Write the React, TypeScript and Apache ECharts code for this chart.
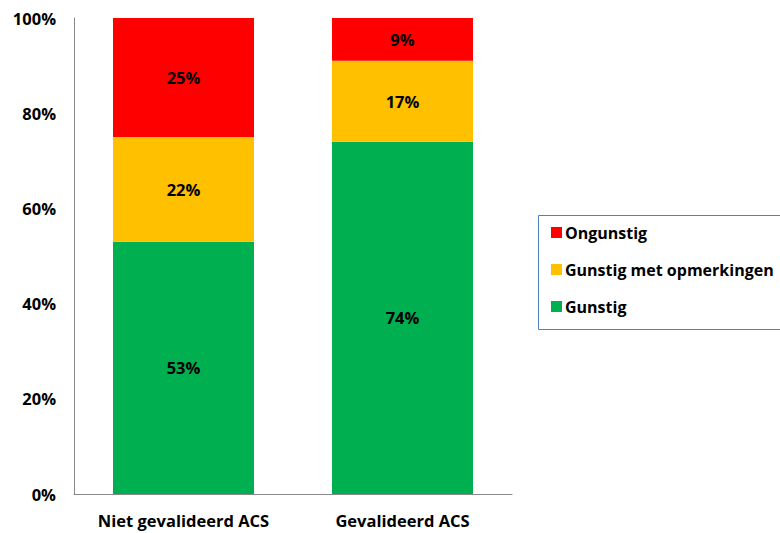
import React, { useEffect, useRef } from "react";
import * as echarts from "echarts";

const categories = ["Niet gevalideerd ACS", "Gevalideerd ACS"];
const gunstig = [53, 74];
const gunstigMetOpmerkingen = [22, 17];
const ongunstig = [25, 9];
const yTicks = ["0%", "20%", "40%", "60%", "80%", "100%"];

const FONT = "'Open Sans', sans-serif";

export default function App() {
  const ref = useRef<HTMLDivElement>(null);
  useEffect(() => {
    if (!ref.current) return;
    const chart = echarts.init(ref.current, null, { renderer: "svg" });
    const label = {
      show: true,
      position: "inside",
      formatter: "{c}%",
      color: "#000",
      fontWeight: "bold",
      fontSize: 16.5,
      fontFamily: FONT,
    };
    chart.setOption({
      animation: false,
      backgroundColor: "#fff",
      textStyle: { fontFamily: FONT },
      grid: { left: 74, top: 18, width: 438, height: 476, containLabel: false },
      xAxis: {
        type: "category",
        data: categories,
        axisLine: { lineStyle: { color: "#888", width: 1 } },
        axisTick: { show: false },
        axisLabel: { interval: 0, hideOverlap: false, color: "#000", fontWeight: "bold", fontSize: 16.5, margin: 18, fontFamily: FONT },
      },
      yAxis: {
        type: "value",
        min: 0,
        max: 100,
        interval: 20,
        axisLine: { show: true, lineStyle: { color: "#888", width: 1 } },
        axisTick: { show: false },
        splitLine: { show: false },
        axisLabel: {
          color: "#000",
          fontWeight: "bold",
          fontSize: 16.5,
          margin: 18,
          fontFamily: FONT,
          formatter: (v: number) => yTicks[Math.round(v / 20)],
        },
      },
      legend: {
        orient: "vertical",
        left: 546,
        top: 217,
        itemWidth: 11,
        itemHeight: 11,
        itemGap: 16,
        icon: "rect",
        data: ["Ongunstig", "Gunstig met opmerkingen", "Gunstig"],
        textStyle: { color: "#000", fontWeight: "bold", fontSize: 16, lineHeight: 21, fontFamily: FONT, padding: [0, 0, 0, -2] },
      },
      graphic: [
        {
          type: "rect",
          left: 536,
          top: 213,
          shape: { x: 0, y: 0, width: 260, height: 114 },
          style: { fill: "none", stroke: "#4F81BD", lineWidth: 1 },
        },
      ],
      series: [
        {
          name: "Gunstig",
          type: "bar",
          stack: "s",
          barWidth: 141,
          data: gunstig,
          itemStyle: { color: "#00B050" },
          label,
        },
        {
          name: "Gunstig met opmerkingen",
          type: "bar",
          stack: "s",
          barWidth: 141,
          data: gunstigMetOpmerkingen,
          itemStyle: { color: "#FFC000" },
          label,
        },
        {
          name: "Ongunstig",
          type: "bar",
          stack: "s",
          barWidth: 141,
          data: ongunstig,
          itemStyle: { color: "#FF0000" },
          label,
        },
      ],
    });
    return () => chart.dispose();
  }, []);
  return (
    <div
      ref={ref}
      style={{ position: "absolute", left: 0, top: 0, width: 780, height: 533 }}
    />
  );
}
